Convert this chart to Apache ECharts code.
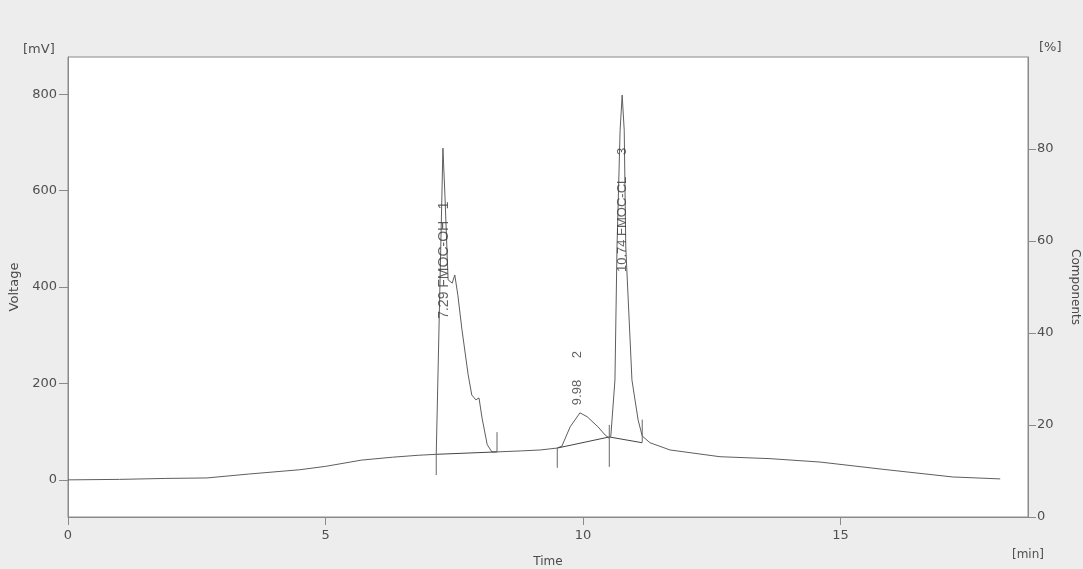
<!DOCTYPE html>
<html>
<head>
<meta charset="utf-8">
<script src="https://cdn.jsdelivr.net/npm/echarts@6/dist/echarts.min.js"></script>
<style>html,body{margin:0;padding:0;background:#ededed;overflow:hidden;}#c{width:1083px;height:569px;}</style>
</head>
<body>
<div id="c"></div>
<script>
// ---- data ----
const timeMin = [0, 1.0, 1.9, 2.7, 3.5, 4.5, 5.0, 5.7, 6.3, 6.8, 7.15, 7.28, 7.32, 7.38, 7.46, 7.51, 7.57, 7.65, 7.77, 7.84, 7.92, 7.98, 8.04, 8.14, 8.23, 8.33, 8.78, 9.17, 9.50, 9.59, 9.75, 9.94, 10.08, 10.29, 10.43, 10.50, 10.54, 10.62, 10.66, 10.72, 10.76, 10.80, 10.83, 10.95, 11.07, 11.15, 11.30, 11.69, 12.66, 13.63, 14.60, 15.90, 17.18, 18.10];
const voltageMV = [0, 1, 3, 4, 12, 21, 28, 41, 47, 51, 53, 688, 587, 415, 408, 425, 383, 311, 218, 176, 166, 170, 128, 73, 58, 58, 60, 62, 66, 70, 110, 139, 131, 110, 93, 87, 91, 207, 483, 725, 798, 725, 483, 207, 124, 91, 77, 62, 48, 44, 37, 21, 6, 2];

// integration baselines: [startTime, startMV, endTime, endMV]
const baselineSegs = [
  [7.15, 53, 8.33, 58],
  [9.50, 66, 10.51, 89],
  [10.51, 89, 11.15, 77]
];
// peak boundary markers: [time, lowMV, highMV]
const peakMarkers = [
  [7.15, 10, 53],
  [8.33, 58, 99],
  [9.50, 25, 66],
  [10.51, 27, 114],
  [11.15, 78, 125]
];
// peak labels: text, time, label start (mV)
const peakLabelText = ['7.29 FMOC-OH   1', '9.98      2', '10.74 FMOC-CL      3'];
const peakLabelTime = [7.30, 9.90, 10.76];
const peakLabelMV = [334, 155, 431];
const peakLabelSize = [14, 13, 13];

const xTicks = [0, 5, 10, 15];
const yLeftTicks = [0, 200, 400, 600, 800];
const yRightTicks = [0, 20, 40, 60, 80];

// ---- chart ----
const chart = echarts.init(document.getElementById('c'), null, {renderer: 'canvas'});
const traceData = timeMin.map((t, i) => [t, voltageMV[i]]);
const lineCol = '#5e5e5e';
const series = [{
  type: 'line', data: traceData, showSymbol: false, symbol: 'none',
  lineStyle: {color: lineCol, width: 1}, animation: false, z: 3
}];
baselineSegs.forEach(s => series.push({
  type: 'line', data: [[s[0], s[1]], [s[2], s[3]]], symbol: 'none',
  lineStyle: {color: '#444', width: 1}, animation: false, z: 4
}));
peakMarkers.forEach(m => series.push({
  type: 'line', data: [[m[0], m[1]], [m[0], m[2]]], symbol: 'none',
  lineStyle: {color: '#666', width: 1}, animation: false, z: 4
}));
series.push({
  type: 'scatter', symbolSize: 0, animation: false, z: 5,
  data: peakLabelText.map((txt, i) => ({
    value: [peakLabelTime[i], peakLabelMV[i]],
    label: {
      show: true, formatter: txt, position: 'inside', rotate: 90,
      align: 'left', verticalAlign: 'middle',
      fontFamily: 'Liberation Sans', fontSize: peakLabelSize[i], color: '#3a3a3a'
    }
  }))
});
// invisible series binding the right axis
series.push({type: 'line', yAxisIndex: 1, data: [], symbol: 'none'});

const axisCol = '#8a8a8a';
const labelFont = {fontFamily: 'DejaVu Sans', fontSize: 13, color: '#4f4f4f'};
chart.setOption({
  backgroundColor: '#ededed',
  animation: false,
  grid: {left: 68, right: 55, top: 57, bottom: 52, outerBoundsMode: 'none', containLabel: false,
         show: true, backgroundColor: '#ffffff', borderColor: axisCol, borderWidth: 1},
  xAxis: {
    type: 'value', min: 0, max: 18.64,
    name: 'Time', nameLocation: 'middle', nameGap: 39,
    nameTextStyle: {fontFamily: 'DejaVu Sans', fontSize: 12, color: '#4a4a4a'},
    axisLine: {show: true, onZero: false, lineStyle: {color: axisCol}},
    axisTick: {show: true, length: 8, lineStyle: {color: axisCol}, customValues: xTicks},
    axisLabel: Object.assign({margin: 12, customValues: xTicks}, labelFont),
    splitLine: {show: false}
  },
  yAxis: [{
    type: 'value', min: -77, max: 877, position: 'left',
    name: 'Voltage', nameLocation: 'middle', nameGap: 43,
    nameTextStyle: {fontFamily: 'DejaVu Sans', fontSize: 13, color: '#4a4a4a'},
    axisLine: {show: true, lineStyle: {color: axisCol}},
    axisTick: {show: true, length: 9, lineStyle: {color: axisCol}, customValues: yLeftTicks},
    axisLabel: Object.assign({margin: 11, customValues: yLeftTicks}, labelFont),
    splitLine: {show: false}
  }, {
    type: 'value', min: 0, max: 100, position: 'right',
    name: 'Components', nameLocation: 'middle', nameGap: 41, nameRotate: -90,
    nameTextStyle: {fontFamily: 'DejaVu Sans', fontSize: 12, color: '#4a4a4a'},
    axisLine: {show: true, lineStyle: {color: axisCol}},
    axisTick: {show: true, length: 8, lineStyle: {color: axisCol}, customValues: yRightTicks},
    axisLabel: Object.assign({margin: 9, customValues: yRightTicks}, labelFont),
    splitLine: {show: false}
  }],
  graphic: [
    {type: 'text', left: 23, top: 43, style: {text: '[mV]', font: '13px "DejaVu Sans"', fill: '#4f4f4f'}},
    {type: 'text', left: 1039, top: 41, style: {text: '[%]', font: '13px "DejaVu Sans"', fill: '#4f4f4f'}},
    {type: 'text', left: 1012, top: 549, style: {text: '[min]', font: '12px "DejaVu Sans"', fill: '#4f4f4f'}}
  ],
  series: series
});
</script>
</body>
</html>
